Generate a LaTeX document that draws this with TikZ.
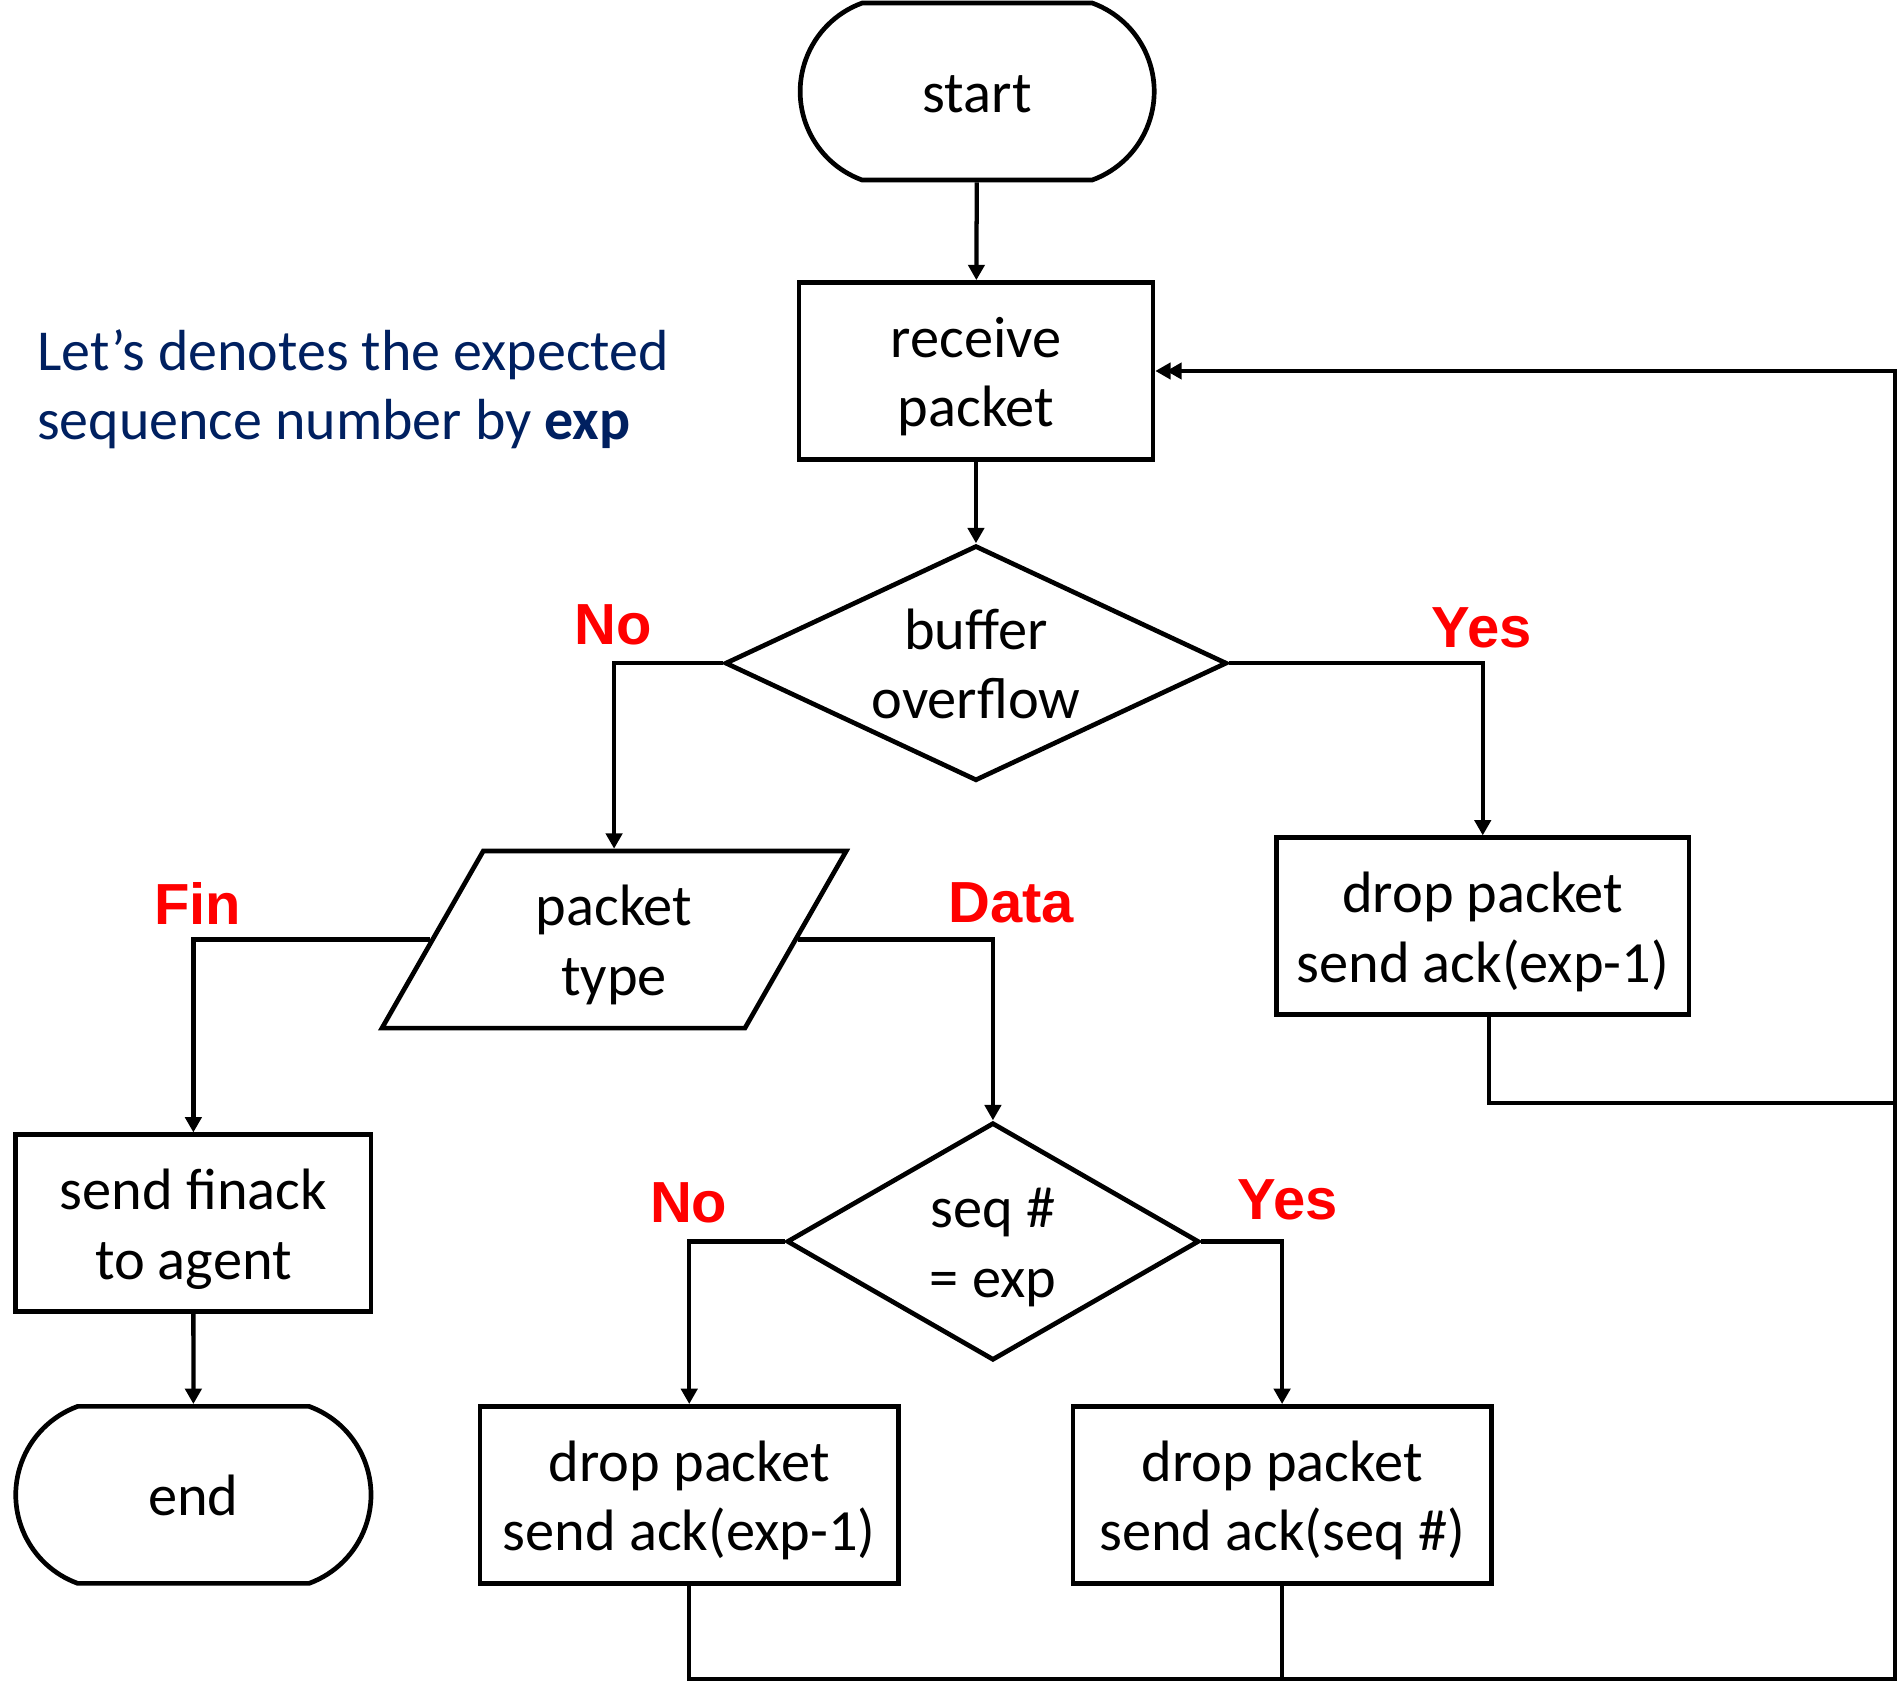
\documentclass[tikz,border=0pt]{standalone}
\usepackage{fontspec}
\setmainfont{Carlito}
\newfontfamily\labelfont{Liberation Sans}
\usepackage{tikz}
\usetikzlibrary{arrows.meta}
\usetikzlibrary{shapes.geometric}
\usetikzlibrary{shapes.misc}
\definecolor{notecolor}{RGB}{0,32,96}
\definecolor{labelred}{RGB}{255,0,0}
\tikzset{%
  myedge/.style={-{Triangle[length=3.6pt, width=3.8pt]}, line width=1pt},
  myline/.style={line width=1pt},
  boxtext/.style={align=center, inner sep=0pt, text height=1.02cm, text depth=0.10cm},
  boxnode/.style={rectangle, draw=black, line width=1.1pt, minimum width=2.92cm, minimum height=1.46cm, boxtext},
  termnode/.style={rounded rectangle, rounded rectangle arc length=140, draw=black, line width=1.1pt, minimum width=2.92cm, minimum height=1.46cm, inner sep=0pt, text height=0.45cm, text depth=0.11cm},
  decnode/.style={diamond, draw=black, line width=1.1pt, boxtext},
  ionode/.style={trapezium, trapezium left angle=66, trapezium right angle=114, trapezium stretches=true, draw=black, line width=1.1pt, minimum width=3.85cm, minimum height=1.46cm, boxtext},
  mylabel/.style={text=labelred, font=\labelfont\bfseries\fontsize{13.6}{16}\selectfont}
}

\begin{document}
\begin{tikzpicture}[font=\fontsize{13.7}{16.3}\selectfont]
  \useasboundingbox (0,0) rectangle (15.68,-13.89);
  % main column
  \node[termnode] (start) at (8.06,-0.755) {start};
  \node[boxnode] (recv) at (8.05,-3.06) {receive\\packet};
  \node[decnode, aspect=2.13, minimum width=4.14cm, minimum height=1.94cm] (buf) at (8.05,-5.47) {buffer\\overflow};
  \node[ionode] (ptype) at (5.065,-7.75) {packet\\type};
  \node[boxnode, minimum width=3.40cm] (dropc) at (12.23,-7.64) {drop packet\\send ack(exp-1)};
  \node[boxnode, minimum width=2.93cm] (fin) at (1.595,-10.09) {send finack\\to agent};
  \node[termnode, minimum width=2.93cm] (stop) at (1.595,-12.33) {end};
  \node[decnode, aspect=1.73, minimum width=3.40cm, minimum height=1.96cm] (seq) at (8.19,-10.24) {seq \#\\= exp};
  \node[boxnode, minimum width=3.45cm] (dropa) at (5.685,-12.33) {drop packet\\send ack(exp-1)};
  \node[boxnode, minimum width=3.45cm] (dropb) at (10.575,-12.33) {drop packet\\send ack(seq \#)};

  % note
  \node[anchor=west, align=left, inner sep=0pt, text=notecolor, font=\fontsize{13.6}{16.3}\selectfont] (note) at (0.30,-3.21)
    {Let’s denotes the expected\\sequence number by \textbf{exp}};

  % branch labels
  \node[mylabel] (no1) at (5.06,-5.15) {No};
  \node[mylabel] (yes1) at (12.22,-5.18) {Yes};
  \node[mylabel] (lfin) at (1.63,-7.45) {Fin};
  \node[mylabel] (ldata) at (8.34,-7.45) {Data};
  \node[mylabel] (no2) at (5.68,-9.92) {No};
  \node[mylabel] (yes2) at (10.62,-9.90) {Yes};

  % loop corners
  \coordinate (rt) at (15.63,-3.06);
  \coordinate (rm) at (15.63,-9.10);
  \coordinate (rb) at (15.63,-13.85);

  \draw[myedge] (start) -- (recv);
  \draw[myedge] (recv) -- (buf);
  \draw[myedge] (buf.west) -| (ptype.north);
  \draw[myedge] (buf.east) -| (dropc.north);
  \draw[myedge] (ptype.west) -| (fin.north);
  \draw[myedge] (ptype.east) -| (seq.north);
  \draw[myedge] (fin) -- (stop);
  \draw[myedge] (seq.west) -| (dropa.north);
  \draw[myedge] (seq.east) -| (dropb.north);

  \draw[myedge] (dropa.south) |- (rb) -- (rt) -- (recv.east);
  \draw[myline] (dropb.south) -- (dropb.south |- rb);
  \draw[myedge, shorten >=2.6pt] ([xshift=0.05cm]dropc.south) |- (rm) -- (rt) -- (recv.east);
\end{tikzpicture}
\end{document}
